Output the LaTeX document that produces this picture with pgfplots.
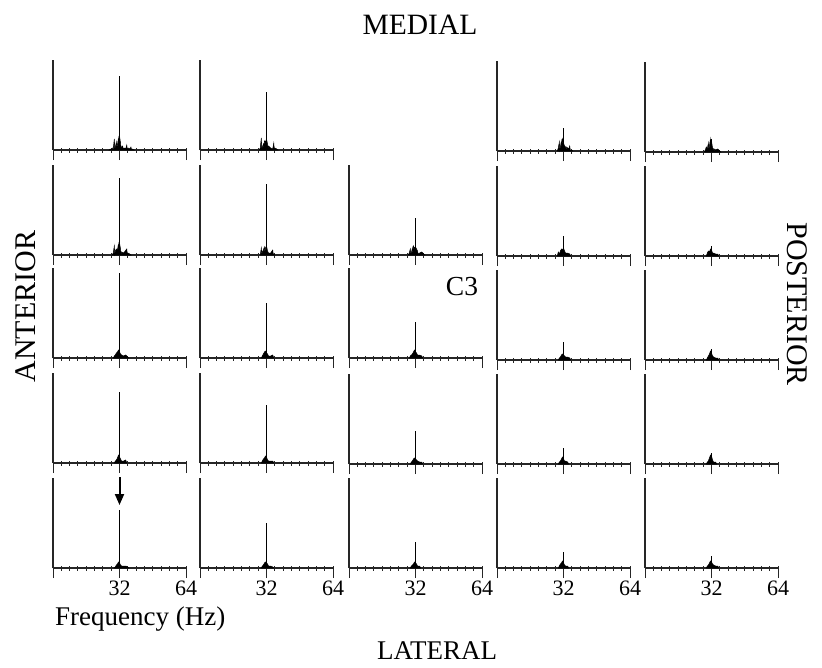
\documentclass[border=0pt]{standalone}
\usepackage{pgfplots}
\pgfplotsset{compat=1.18}
\usepackage{fontspec}
\setmainfont{Liberation Serif}
\usetikzlibrary{arrows.meta}
\pgfplotsset{
  panel/.style={scale only axis, width=133pt, height=90pt,
    xmin=0, xmax=64, ymin=0, ymax=90, axis lines*=left,
    xtick={0,32,64}, minor xtick={4,8,12,16,20,24,28,36,40,44,48,52,56,60},
    ytick=\empty, xticklabels={},
    axis line style={line width=1.1pt, black!85},
    tick style={line width=0.9pt, black!85},
    major tick length=12pt, minor tick length=5pt, tick align=center,
    every major x tick/.append style={yshift=-4pt},
    clip=false, anchor=south west},
  bottom/.style={xticklabels={,32,64},
    xticklabel style={font=\fontsize{22}{22}\selectfont, inner sep=0pt, anchor=base, yshift=-21pt}}
}
\newcommand{\panel}[5]{%
\begin{axis}[panel, at={(#1pt,-#2pt)}, #5]
\addplot[fill=black, draw=black, line width=0.5pt, mark=none] coordinates {#4} \closedcycle;
\addplot[ycomb, line width=1.1pt, black, mark=none] coordinates {(32,#3)};
\end{axis}}
\begin{document}
\begin{tikzpicture}
\path[use as bounding box] (0pt,0pt) rectangle (822pt,-667pt);
% Row 1
\panel{53}{150}{74}{(27,0)(27.5,1)(28,0)(28.5,2)(28.75,0.5)(29,1)(29.5,11)(29.75,1)(30,3)(30.5,8)(30.75,2)(31,5)(31.5,12)(31.75,4)(32,14)(32.5,7)(32.75,2)(33,3)(33.5,4)(33.75,1)(34,2)(34.5,2)(35,1)(35.5,5)(35.75,0.5)(36,1)(36.5,2)(37,1)(37.5,3)(37.75,0.5)(38,1)(39,0)}{}
\panel{200}{150}{58}{(28.5,0)(29,2)(29.5,12)(29.75,1)(30,3)(30.5,6)(30.75,2)(31,9)(31.5,8)(32,11)(32.5,6)(32.75,2)(33,4)(33.5,3)(34,2)(35,1)(35.5,7)(35.75,0.5)(36,2)(37,1)(37.5,0)}{}
\panel{497}{151}{23}{(29,0)(29.5,3)(30,9)(30.25,1)(30.5,4)(31,10)(31.25,3)(31.5,12)(32,8)(32.5,5)(33,4)(33.25,1)(33.5,4)(34,3)(34.5,2)(35,5)(35.25,1)(36,1)(36.5,0)}{}
\panel{645}{152}{13}{(28.5,0)(29,2)(29.5,5)(30,3)(30.5,9)(30.75,2)(31,6)(31.5,13)(31.75,4)(32,11)(32.5,4)(33,3)(33.25,1)(33.5,3)(34,2)(35,3)(36,1)(36.5,0)}{}
% Row 2
\panel{53}{255}{77}{(28.5,0)(29,2)(29.5,9)(29.75,1)(30,4)(30.5,6)(31,5)(31.5,11)(31.75,3)(32,12)(32.5,6)(32.75,1)(33,3)(34,2)(35.5,6)(35.75,0.5)(36,2)(37,1)(37.5,0)}{}
\panel{200}{255}{71}{(29,0)(29.5,7)(29.75,1)(30,3)(30.5,5)(31,8)(31.25,2)(31.5,7)(32,9)(32.5,4)(33,2)(34,2)(35,5)(35.25,0.5)(35.5,1)(36,0)}{}
\panel{349}{255}{37}{(28.5,0)(29,2)(29.5,6)(29.75,1)(30,2)(30.5,7)(30.75,1)(31,9)(31.5,7)(32,8)(32.5,6)(33,4)(33.25,1)(34,2)(35,3)(36,1)(36.5,0)}{}
\panel{497}{256}{20}{(29,0)(29.5,4)(30,2)(30.5,5)(31,7)(31.5,6)(32,8)(32.5,5)(33,3)(34,3)(35,2)(35.5,0)}{}
\panel{645}{256}{10}{(29.5,0)(30,3)(30.5,5)(31,4)(31.5,7)(32,6)(32.5,3)(33,3)(34,2)(35,2)(35.5,0)}{}
% Row 3
\panel{53}{358}{85}{(29,0)(29.5,2)(30,3)(30.5,5)(31,6)(31.5,8)(32,6)(32.5,4)(33,3)(34,2)(35,3)(36,1)(36.5,0)}{}
\panel{200}{358}{55}{(29.5,0)(30,2)(30.5,4)(31,6)(31.5,7)(32,5)(32.5,4)(33,2)(34,2)(35,3)(35.5,0)}{}
\panel{349}{358}{36}{(29,0)(29.5,2)(30,3)(30.5,4)(31,6)(31.5,8)(32,6)(32.5,5)(33,3)(34,3)(35,2)(35.5,0)}{}
\panel{497}{360}{18}{(29.5,0)(30,2)(30.5,3)(31,5)(31.5,6)(32,5)(32.5,4)(33,3)(34,3)(35,2)(35.5,0)}{}
\panel{645}{360}{11}{(29.5,0)(30,2)(30.5,4)(31,6)(31.5,9)(32,7)(32.5,4)(33,3)(34,2)(35,2)(35.5,0)}{}
% Row 4
\panel{53}{463}{71}{(29.5,0)(30,2)(30.5,3)(31,5)(31.5,8)(32,6)(32.5,4)(33,2)(34,2)(35,3)(35.5,0)}{}
\panel{200}{463}{58}{(29.5,0)(30,2)(30.5,4)(31,5)(31.5,7)(32,6)(32.5,3)(33,2)(34,2)(35,2)(35.5,0)}{}
\panel{349}{464}{33}{(29.5,0)(30,2)(30.5,3)(31,5)(31.5,6)(32,5)(32.5,4)(33,3)(34,2)(35,2)(35.5,0)}{}
\panel{497}{464}{16}{(29.5,0)(30,2)(30.5,3)(31,5)(31.5,7)(32,5)(32.5,3)(33,3)(34,2)(34.5,0)}{}
\panel{645}{464}{11}{(29.5,0)(30,2)(30.5,3)(31,6)(31.5,9)(32,8)(32.5,4)(33,2)(34,2)(34.5,0)}{}
% Row 5
\begin{axis}[panel, at={(53pt,-568pt)}, bottom]
\addplot[fill=black, draw=black, line width=0.5pt, mark=none] coordinates {(29.5,0)(30,1)(30.5,3)(31,4)(31.5,6)(32,5)(32.5,3)(33,2)(34,2)(35,2)(36,1)(36.5,0)} \closedcycle;
\addplot[ycomb, line width=1.1pt, black, mark=none] coordinates {(32,58)};
\draw[line width=2pt, -{Triangle[length=11pt, width=9pt]}] (axis cs:32,91) -- (axis cs:32,63);
\end{axis}
\panel{200}{568}{45}{(29.5,0)(30,2)(30.5,3)(31,5)(31.5,6)(32,5)(32.5,4)(33,2)(34,2)(35,1)(35.5,0)}{bottom}
\panel{349}{568}{26}{(29.5,0)(30,2)(30.5,3)(31,4)(31.5,6)(32,5)(32.5,4)(33,2)(34,2)(34.5,0)}{bottom}
\panel{497}{568}{16}{(29.5,0)(30,2)(30.5,4)(31,5)(31.5,7)(32,5)(32.5,3)(33,2)(34,2)(34.5,0)}{bottom}
\panel{645}{568}{12}{(29.5,0)(30,2)(30.5,3)(31,5)(31.5,7)(32,6)(32.5,4)(33,3)(34,2)(35,2)(35.5,0)}{bottom}
% Labels
\node[anchor=base, font=\fontsize{29.5}{30}\selectfont] at (420pt,-34pt) {MEDIAL};
\node[anchor=base, font=\fontsize{27}{28}\selectfont] at (437pt,-659pt) {LATERAL};
\node[rotate=90, font=\fontsize{30}{30}\selectfont] at (26pt,-306.5pt) {ANTERIOR};
\node[rotate=-90, font=\fontsize{30}{30}\selectfont] at (797pt,-304pt) {POSTERIOR};
\node[font=\fontsize{27.5}{28}\selectfont] at (462pt,-287pt) {C3};
\node[anchor=base west, font=\fontsize{27}{28}\selectfont, inner sep=0pt] at (55pt,-625pt) {Frequency (Hz)};
\end{tikzpicture}
\end{document}
